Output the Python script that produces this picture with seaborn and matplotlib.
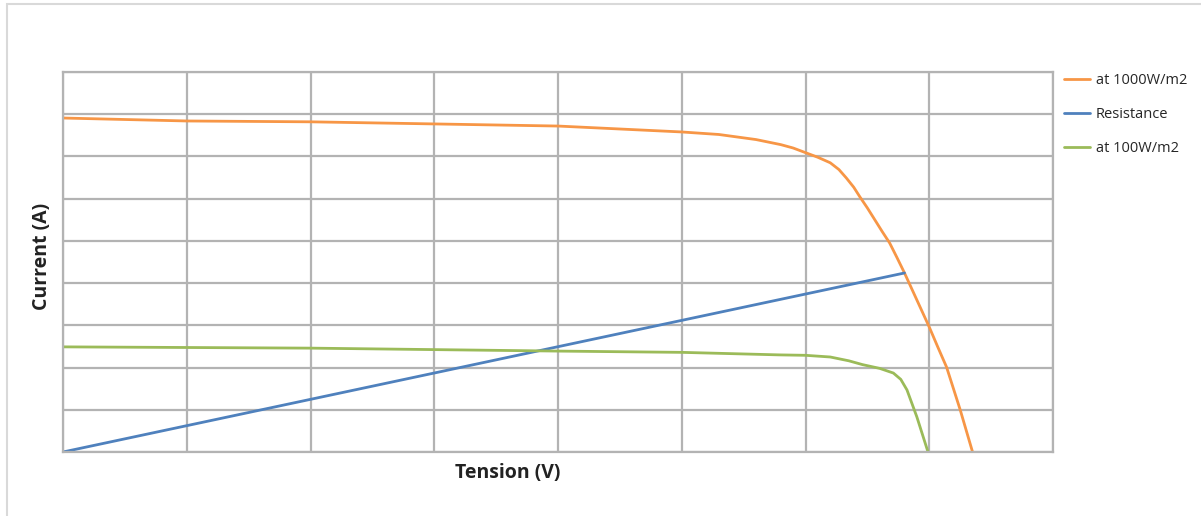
import numpy as np
import pandas as pd
import seaborn as sns
import matplotlib.pyplot as plt
from matplotlib.patches import Rectangle

# values (grid units: 8 columns x 9 rows, no tick labels)
v_1000 = [0.0, 1.0, 2.0, 3.0, 4.0, 5.0, 5.3, 5.6, 5.8, 5.9, 6.0, 6.1, 6.2, 6.27, 6.33, 6.39, 6.44, 6.5,
          6.56, 6.62, 6.68, 6.74, 6.8, 6.9, 7.0, 7.07, 7.14, 7.25, 7.35]
i_1000 = [7.91, 7.84, 7.82, 7.77, 7.72, 7.58, 7.52, 7.40, 7.28, 7.20, 7.09, 6.98, 6.85, 6.69, 6.49, 6.27,
          6.04, 5.78, 5.5, 5.22, 4.95, 4.6, 4.24, 3.6, 2.96, 2.48, 2.01, 1.0, 0.0]

v_res = [0.0, 6.8]
i_res = [0.0, 4.24]

v_100 = [0.0, 2.0, 4.0, 5.0, 5.79, 6.0, 6.2, 6.35, 6.46, 6.6, 6.71, 6.77, 6.82, 6.86, 6.9, 6.99]
i_100 = [2.49, 2.46, 2.39, 2.36, 2.30, 2.29, 2.25, 2.16, 2.07, 1.98, 1.87, 1.72, 1.47, 1.15, 0.83, 0.0]

series = [
    ("at 1000W/m2", v_1000, i_1000, "#F79646"),
    ("Resistance", v_res, i_res, "#4F81BD"),
    ("at 100W/m2", v_100, i_100, "#9BBB59"),
]

sns.set_style("white")
plt.rcParams['font.family'] = ['Open Sans', 'DejaVu Sans']

fig = plt.figure(figsize=(12.01, 5.16), dpi=100)
ax = fig.add_axes([63 / 1201, 64 / 516, 990 / 1201, 380 / 516])

for name, v, i, col in series:
    df = pd.DataFrame({"V": v, "I": i})
    sns.lineplot(data=df, x="V", y="I", ax=ax, color=col, linewidth=2,
                 label=name, sort=False, estimator=None)

ax.set_xlim(0, 8)
ax.set_ylim(0, 9)
ax.set_xticks(np.arange(0, 9))
ax.set_yticks(np.arange(0, 10))
ax.set_xticklabels([])
ax.set_yticklabels([])
ax.tick_params(length=0)
ax.grid(True, color="#B3B3B3", linewidth=1.6)
ax.set_axisbelow(True)
for s in ax.spines.values():
    s.set_color("#B3B3B3")
    s.set_linewidth(1.6)

ax.set_xlabel("")
ax.set_ylabel("")
fig.text(508 / 1201, 1 - 473 / 516, "Tension (V)", ha="center", va="center",
         fontsize=14, fontweight="bold", color="#222222")
fig.text(42 / 1201, 1 - 256 / 516, "Current (A)", ha="center", va="center",
         rotation=90, fontsize=14, fontweight="bold", color="#222222")

handles, labels = ax.get_legend_handles_labels()
ax.get_legend().remove()
fig.legend(handles, labels, loc="upper left",
           bbox_to_anchor=(1064 / 1201, 1 - 73 / 516), frameon=False,
           fontsize=10.5, handlelength=1.75, handletextpad=0.45, labelspacing=1.3,
           borderaxespad=0, borderpad=0)

# outer chart frame
fig.patches.append(Rectangle((7 / 1201, -0.01), 1.0, 1 - 4 / 516 + 0.01,
                             transform=fig.transFigure, fill=False,
                             edgecolor="#D9D9D9", linewidth=1.5))

fig.savefig("out.png", dpi=100)
